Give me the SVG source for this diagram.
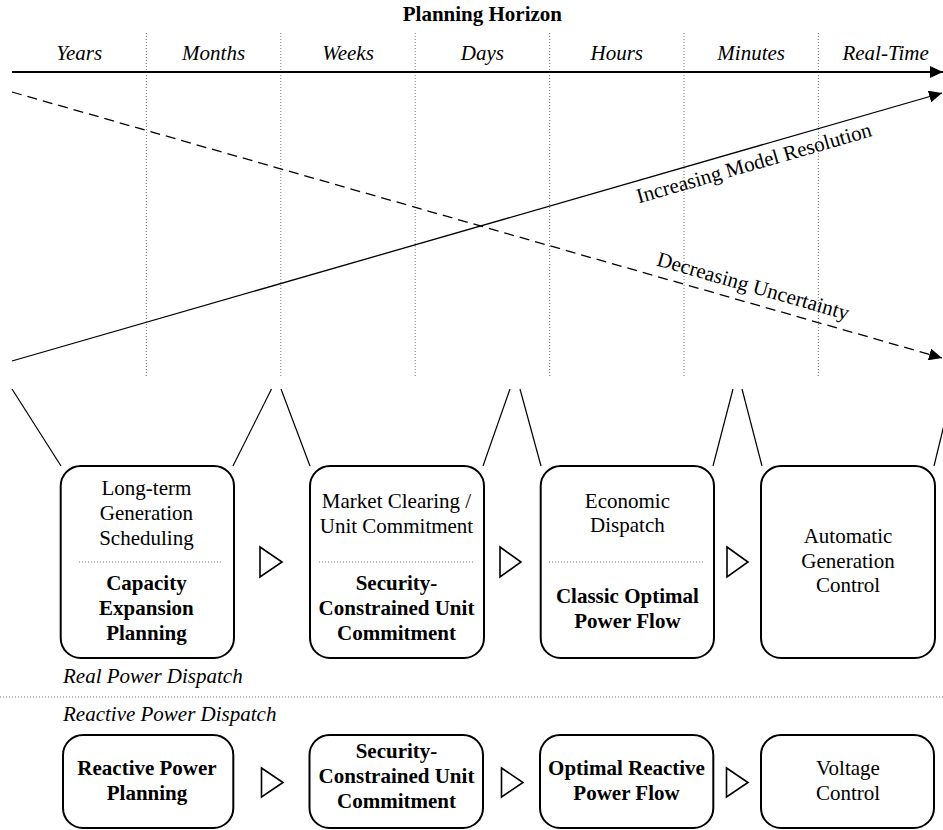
<svg xmlns="http://www.w3.org/2000/svg" width="943" height="830" viewBox="0 0 943 830">
<style>
.t{font-family:"Liberation Serif","Times New Roman",serif;font-size:21px;fill:#000;text-anchor:middle}
.b{font-weight:bold}
.i{font-style:italic}
.l{text-anchor:start}
.box{fill:#fff;stroke:#000;stroke-width:2}
.dot{stroke:#777;stroke-width:1;stroke-dasharray:1 2;fill:none}
.fan{stroke:#000;stroke-width:1.2;fill:none}
.tri{fill:#fff;stroke:#000;stroke-width:1.6;stroke-linejoin:miter}
</style>
<defs>
<marker id="ah" markerUnits="userSpaceOnUse" markerWidth="13" markerHeight="12" refX="13" refY="6" orient="auto">
<path d="M0,0 L13,6 L0,12 z" fill="#000"/>
</marker>
</defs>
<rect width="943" height="830" fill="#fff"/>

<g id="header">
<text class="t b" x="482.4" y="21">Planning Horizon</text>
<g class="t i">
<text x="79.2" y="60">Years</text>
<text x="213.6" y="60">Months</text>
<text x="348" y="60">Weeks</text>
<text x="482.4" y="60">Days</text>
<text x="616.8" y="60">Hours</text>
<text x="751.2" y="60">Minutes</text>
<text x="885.6" y="60">Real-Time</text>
</g>
<g class="dot">
<line x1="146.4" y1="33" x2="146.4" y2="378"/>
<line x1="280.8" y1="33" x2="280.8" y2="378"/>
<line x1="415.2" y1="33" x2="415.2" y2="378"/>
<line x1="549.6" y1="33" x2="549.6" y2="378"/>
<line x1="684" y1="33" x2="684" y2="378"/>
<line x1="818.4" y1="33" x2="818.4" y2="378"/>
</g>
</g>

<g id="connectors">
<line x1="12" y1="72" x2="943" y2="72" stroke="#000" stroke-width="2.2" marker-end="url(#ah)"/>
<line x1="12" y1="361" x2="942" y2="93" stroke="#000" stroke-width="1.3" marker-end="url(#ah)"/>
<line x1="12" y1="92" x2="942" y2="358" stroke="#000" stroke-width="1.3" stroke-dasharray="10 6" marker-end="url(#ah)"/>
<g class="fan">
<line x1="12" y1="389" x2="61" y2="466"/>
<line x1="271.5" y1="389" x2="233" y2="466"/>
<line x1="281" y1="389" x2="310" y2="466"/>
<line x1="510" y1="389" x2="483" y2="466"/>
<line x1="520" y1="389" x2="541" y2="466"/>
<line x1="733" y1="389" x2="713" y2="466"/>
<line x1="742" y1="389" x2="762" y2="466"/>
<line x1="952.8" y1="389" x2="934" y2="466"/>
</g>
<g class="tri">
<path d="M260,547 L282,562 L260,577 z"/>
<path d="M500,547 L521,562 L500,577 z"/>
<path d="M727,547 L748,562 L727,577 z"/>
<path d="M261.5,768 L283,782.5 L261.5,797 z"/>
<path d="M501.5,768 L523,782.5 L501.5,797 z"/>
<path d="M726.5,768 L748,782.5 L726.5,797 z"/>
</g>
</g>

<g id="axis-labels">
<g transform="translate(750,149.5) rotate(-16.07)"><text class="t" x="0" y="21">Increasing Model Resolution</text></g>
<g transform="translate(748.5,302.3) rotate(15.96)"><text class="t" x="0" y="-10">Decreasing Uncertainty</text></g>
</g>

<g id="row-labels">
<text class="t i l" x="63" y="683">Real Power Dispatch</text>
<line class="dot" x1="0" y1="697" x2="943" y2="697"/>
<text class="t i l" x="63" y="721">Reactive Power Dispatch</text>
</g>

<g id="n-capacity">
<rect class="box" x="60.7" y="466" width="173.3" height="192" rx="20"/>
<text class="t" x="146.4" y="495">Long-term</text>
<text class="t" x="146.4" y="520">Generation</text>
<text class="t" x="146.4" y="545">Scheduling</text>
<line class="dot" x1="79" y1="562" x2="223" y2="562"/>
<text class="t b" x="146.4" y="590">Capacity</text>
<text class="t b" x="146.4" y="615">Expansion</text>
<text class="t b" x="146.4" y="640">Planning</text>
</g>

<g id="n-scuc">
<rect class="box" x="310" y="466" width="174" height="192" rx="20"/>
<text class="t" x="396.5" y="508">Market Clearing /</text>
<text class="t" x="396.5" y="533">Unit Commitment</text>
<line class="dot" x1="319" y1="562" x2="473" y2="562"/>
<text class="t b" x="396.5" y="590">Security-</text>
<text class="t b" x="396.5" y="615">Constrained Unit</text>
<text class="t b" x="396.5" y="640">Commitment</text>
</g>

<g id="n-opf">
<rect class="box" x="540.7" y="466" width="173.3" height="192" rx="20"/>
<text class="t" x="627.4" y="508">Economic</text>
<text class="t" x="627.4" y="532">Dispatch</text>
<line class="dot" x1="549" y1="562" x2="703" y2="562"/>
<text class="t b" x="627.4" y="603">Classic Optimal</text>
<text class="t b" x="627.4" y="628">Power Flow</text>
</g>

<g id="n-agc">
<rect class="box" x="761" y="466" width="174" height="192" rx="20"/>
<text class="t" x="848" y="543">Automatic</text>
<text class="t" x="848" y="568">Generation</text>
<text class="t" x="848" y="592">Control</text>
</g>

<g id="n-rpp">
<rect class="box" x="63" y="735" width="170.3" height="93" rx="20"/>
<text class="t b" x="147" y="775">Reactive Power</text>
<text class="t b" x="147" y="800">Planning</text>
</g>

<g id="n-scuc2">
<rect class="box" x="309.5" y="735" width="173.5" height="93" rx="20"/>
<text class="t b" x="396.5" y="758">Security-</text>
<text class="t b" x="396.5" y="783">Constrained Unit</text>
<text class="t b" x="396.5" y="808">Commitment</text>
</g>

<g id="n-orpf">
<rect class="box" x="540" y="735" width="173.3" height="93" rx="20"/>
<text class="t b" x="626.5" y="775">Optimal Reactive</text>
<text class="t b" x="626.5" y="800">Power Flow</text>
</g>

<g id="n-vc">
<rect class="box" x="761" y="735" width="173" height="93" rx="20"/>
<text class="t" x="848" y="775">Voltage</text>
<text class="t" x="848" y="800">Control</text>
</g>
</svg>
